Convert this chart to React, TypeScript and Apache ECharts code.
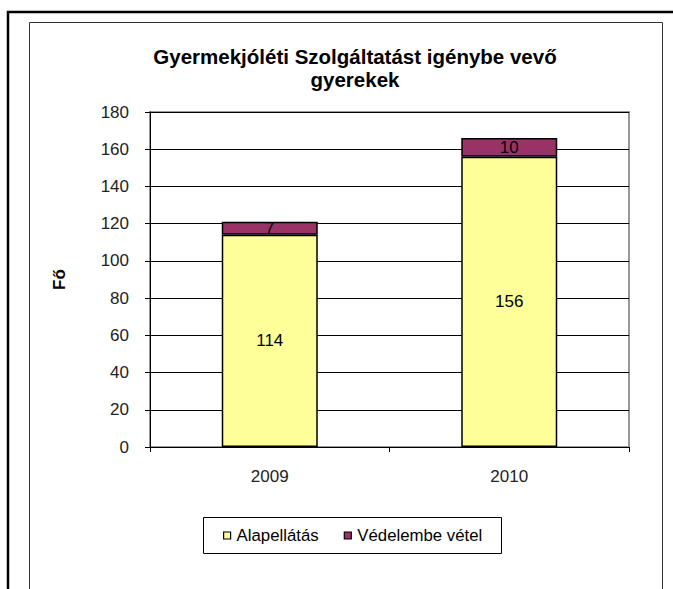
import React, { useEffect, useRef } from "react";
import * as echarts from "echarts";

const categories = ["2009", "2010"];
const alapellatas = [114, 156];
const vedelembe = [7, 10];
const seriesNames = ["Alapellátás", "Védelembe vétel"];
const titleText = "Gyermekjóléti Szolgáltatást igénybe vevő\ngyerekek";
const yName = "Fő";

const FONT = "'Liberation Sans', Arial, sans-serif";

export default function App() {
  const ref = useRef<HTMLDivElement>(null);
  useEffect(() => {
    if (!ref.current) return;
    const chart = echarts.init(ref.current, undefined, { renderer: "svg" });
    chart.setOption({
      animation: false,
      backgroundColor: "#ffffff",
      textStyle: { fontFamily: FONT },
      title: {
        text: titleText,
        left: 350,
        top: 40,
        textAlign: "center",
        textStyle: {
          fontFamily: FONT,
          fontSize: 20.5,
          fontWeight: "bold",
          color: "#000",
          lineHeight: 23,
        },
      },
      graphic: [
        {
          type: "rect",
          shape: { x: 8, y: 12, width: 700, height: 620 },
          style: { fill: "none", stroke: "#000", lineWidth: 2.5 },
          silent: true,
        },
        {
          type: "rect",
          shape: { x: 29.5, y: 22.5, width: 633, height: 620 },
          style: { fill: "none", stroke: "#333", lineWidth: 1 },
          silent: true,
        },
        {
          type: "rect",
          shape: { x: 203.5, y: 517.5, width: 298, height: 36 },
          style: { fill: "none", stroke: "#000", lineWidth: 1 },
          silent: true,
        },
      ],
      legend: {
        left: 223,
        top: 527,
        padding: 0,
        itemGap: 25,
        itemWidth: 7,
        itemHeight: 7,
        icon: "rect",
        itemStyle: { borderColor: "#000", borderWidth: 1.2 },
        textStyle: { fontFamily: FONT, fontSize: 16.8, color: "#000", padding: [0, 0, 0, 1] },
        data: seriesNames,
      },
      grid: {
        left: 150,
        right: 44,
        top: 112,
        bottom: 142,
        show: true,
        borderColor: "#999",
        borderWidth: 2,
        containLabel: false,
      },
      xAxis: {
        type: "category",
        data: categories,
        axisLine: { show: true, lineStyle: { color: "#000", width: 1 } },
        axisTick: { show: true, length: 5, lineStyle: { color: "#000" } },
        axisLabel: { fontFamily: FONT, fontSize: 17, color: "#222", margin: 21 },
      },
      yAxis: {
        type: "value",
        min: 0,
        max: 180,
        interval: 20,
        name: yName,
        nameLocation: "middle",
        nameGap: 82,
        nameTextStyle: { fontFamily: FONT, fontSize: 17, fontWeight: "bold", color: "#000" },
        axisLine: { show: true, lineStyle: { color: "#000", width: 1 } },
        axisTick: { show: true, length: 5, inside: false, lineStyle: { color: "#000" } },
        axisLabel: { fontFamily: FONT, fontSize: 17, color: "#222", margin: 21 },
        splitLine: { show: true, lineStyle: { color: "#000", width: 1 } },
      },
      series: [
        {
          name: seriesNames[0],
          type: "bar",
          stack: "total",
          barWidth: 96,
          data: alapellatas,
          itemStyle: { color: "#FFFF99", borderColor: "#000", borderWidth: 1.5 },
          label: {
            show: true,
            position: "inside",
            fontFamily: FONT,
            fontSize: 17,
            color: "#000",
          },
        },
        {
          name: seriesNames[1],
          type: "bar",
          stack: "total",
          barWidth: 96,
          data: vedelembe,
          itemStyle: { color: "#993366", borderColor: "#000", borderWidth: 1.5 },
          label: {
            show: true,
            position: "inside",
            fontFamily: FONT,
            fontSize: 17,
            color: "#000",
          },
        },
      ],
    });
    return () => chart.dispose();
  }, []);
  return (
    <div
      style={{ position: "fixed", left: 0, top: 0, width: 673, height: 589, background: "#fff" }}
    >
      <div ref={ref} style={{ width: 673, height: 589 }} />
    </div>
  );
}
